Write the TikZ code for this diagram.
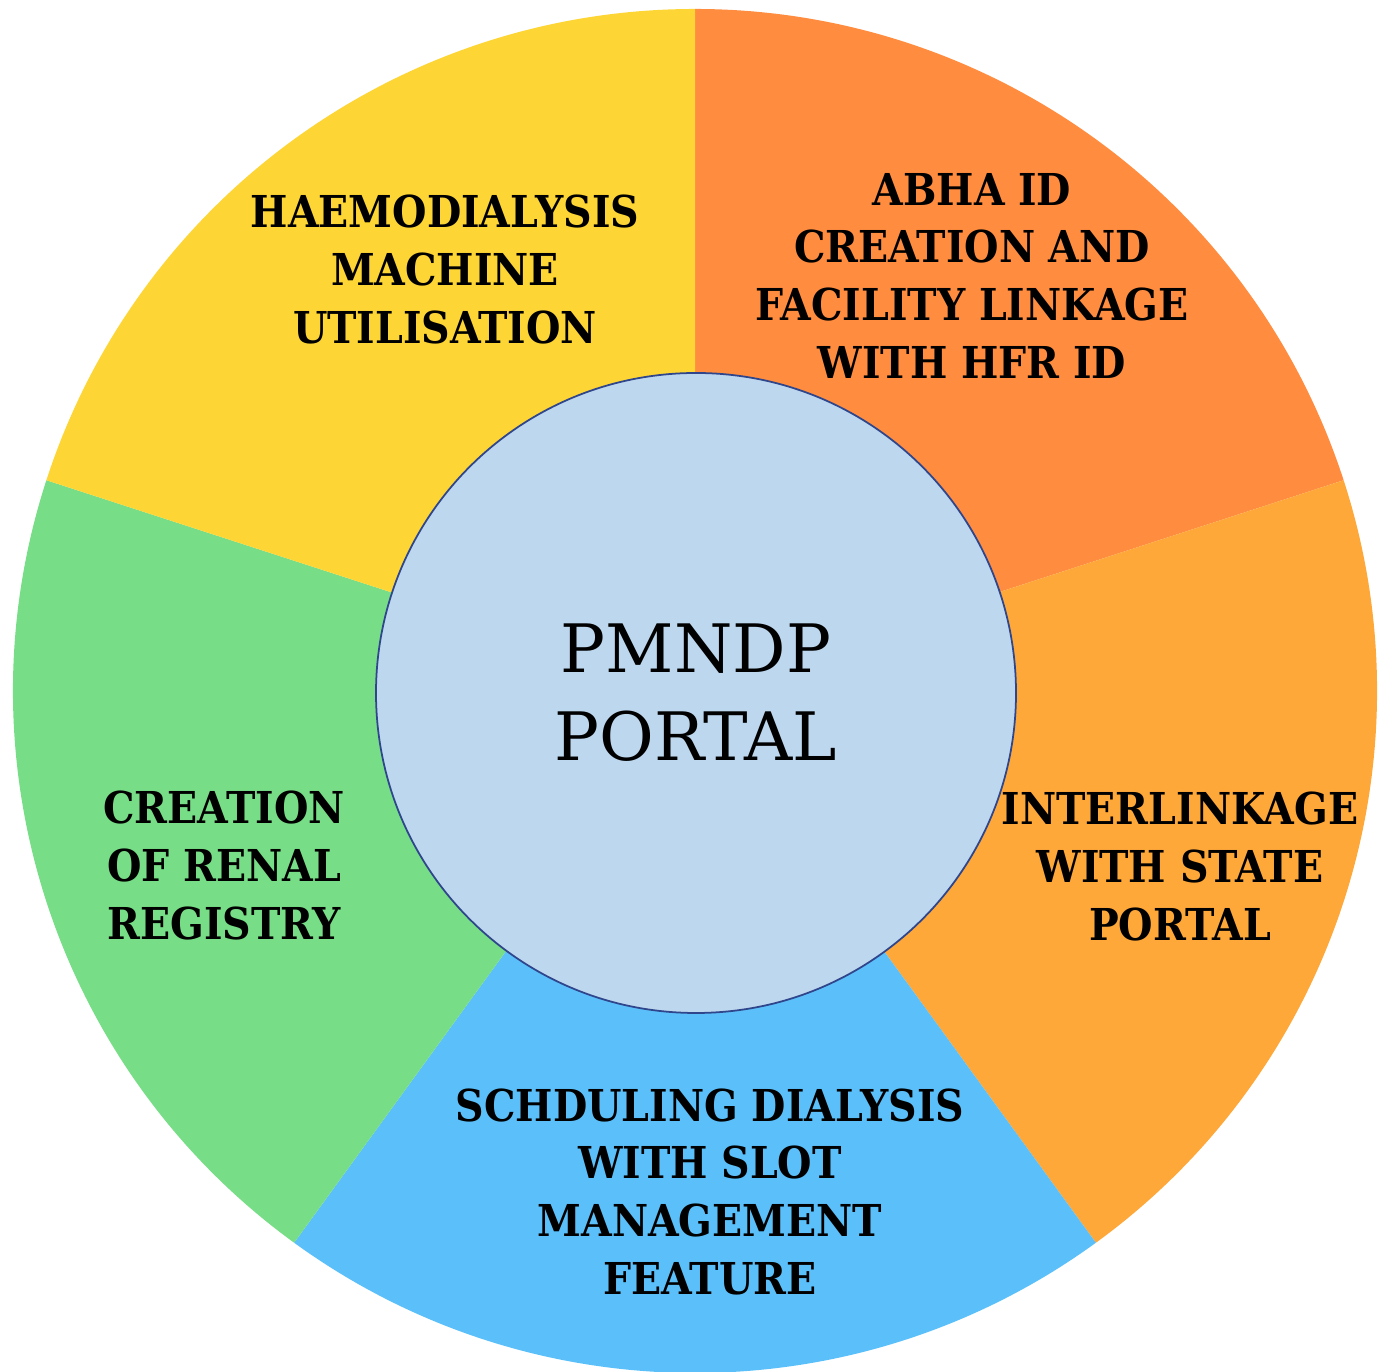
\documentclass[tikz,border=0pt]{standalone}
\usepackage{fontspec}
\setmainfont{DejaVu Serif}
\newfontfamily\labfont{DejaVu Serif Condensed}[BoldFont={DejaVu Serif Condensed Bold}]
\definecolor{cyellow}{RGB}{253,213,53}
\definecolor{corangeA}{RGB}{255,140,63}
\definecolor{corangeB}{RGB}{255,168,58}
\definecolor{cblue}{RGB}{91,192,250}
\definecolor{cgreen}{RGB}{119,221,134}
\definecolor{ccenter}{RGB}{189,215,238}
\definecolor{cborder}{RGB}{47,70,140}
\begin{document}
\begin{tikzpicture}[x=1cm,y=1cm,
  sector/.style={draw=none},
  lab/.style={align=center,font=\labfont\bfseries\fontsize{12.5}{16.5}\selectfont,text=black,inner sep=0pt},
  hub/.style={circle,draw=cborder,line width=0.5pt,fill=ccenter,minimum size=6.4cm,inner sep=0pt,
    align=center,font=\fontsize{19}{25}\selectfont}]
\useasboundingbox (0,0) rectangle (13.89,13.72);
\coordinate (O) at (6.95,6.81);
\def\R{6.82}
\fill[sector,corangeA] (O) -- ++(90:\R) arc[start angle=90,end angle=18,radius=\R] -- cycle;
\fill[sector,corangeB] (O) -- ++(18:\R) arc[start angle=18,end angle=-54,radius=\R] -- cycle;
\fill[sector,cblue] (O) -- ++(-54:\R) arc[start angle=-54,end angle=-126,radius=\R] -- cycle;
\fill[sector,cgreen] (O) -- ++(-126:\R) arc[start angle=-126,end angle=-198,radius=\R] -- cycle;
\fill[sector,cyellow] (O) -- ++(162:\R) arc[start angle=162,end angle=90,radius=\R] -- cycle;
\node[hub] (hub) at (6.96,6.79) {PMNDP\\PORTAL};
\node[lab] (haemo) at (4.45,11.02) {HAEMODIALYSIS\\MACHINE\\UTILISATION};
\node[lab] (abha) at (9.72,10.96) {ABHA ID\\CREATION AND\\FACILITY LINKAGE\\WITH HFR ID};
\node[lab] (inter) at (11.80,5.05) {INTERLINKAGE\\WITH STATE\\PORTAL};
\node[lab] (sched) at (7.10,1.80) {SCHDULING DIALYSIS\\WITH SLOT\\MANAGEMENT\\FEATURE};
\node[lab] (renal) at (2.24,5.06) {CREATION\\OF RENAL\\REGISTRY};
\end{tikzpicture}
\end{document}
